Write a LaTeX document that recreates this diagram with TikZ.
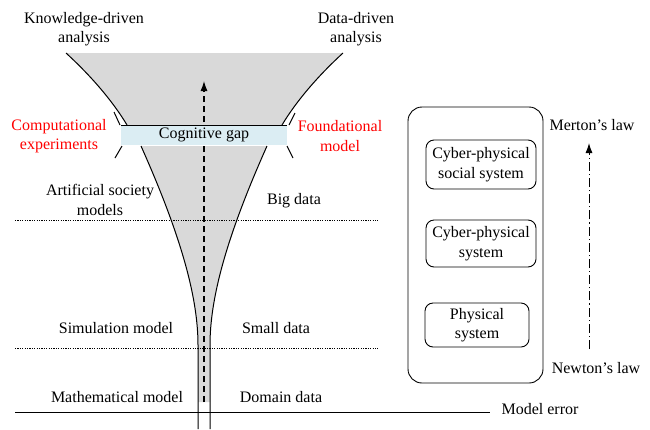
\documentclass[tikz,border=0pt]{standalone}
\usepackage{fontspec}
\setmainfont{Liberation Serif}
\usetikzlibrary{arrows.meta}
\definecolor{gapblue}{RGB}{219,237,243}
\definecolor{funnelgray}{RGB}{217,217,217}
\begin{document}
\begin{tikzpicture}[x=1pt,y=-1pt,
  lbl/.style={font=\fontsize{16}{19.5}\selectfont, align=center, inner sep=0pt},
  redlbl/.style={lbl,text=red},
  sysbox/.style={lbl, draw, rounded corners=8pt, line width=0.9pt},
  edgeline/.style={line width=1pt},
  guide/.style={dash pattern=on 1.2pt off 1.2pt, line width=1pt},
  axisarrow/.style={dash pattern=on 6pt off 4pt, line width=1.1pt, -{Latex[length=10pt,width=7pt]}},
  lawarrow/.style={dash pattern=on 9pt off 3pt on 1.2pt off 3pt, line width=1pt, -{Latex[length=10pt,width=7pt]}}
]
\useasboundingbox (0,0) rectangle (650,429);

% ---------- upper funnel ----------
\fill[funnelgray] (66,53) .. controls (90,75) and (112,100) .. (127,125)
  -- (282,125) .. controls (297,100) and (319,75) .. (343,53) -- cycle;
\draw[edgeline] (66,53) .. controls (90,75) and (112,100) .. (127,125);
\draw[edgeline] (343,53) .. controls (319,75) and (297,100) .. (282,125);
\draw[edgeline] (114,112) -- (120,125);
\draw[edgeline] (295,113) -- (289,125);

% ---------- lower funnel ----------
\fill[funnelgray] (141,146) .. controls (183,240) and (198,300) .. (198,345)
  -- (198,402) -- (210,402) -- (210,345) .. controls (210,300) and (225,240) .. (267,146) -- cycle;
\draw[edgeline] (141,146) .. controls (183,240) and (198,300) .. (198,345) -- (198,429);
\draw[edgeline] (267,146) .. controls (225,240) and (210,300) .. (210,345) -- (210,429);
\draw[edgeline] (122,146) -- (115,158);
\draw[edgeline] (287,146) -- (293,158);

% ---------- central arrow (behind the bar) ----------
\coordinate (ca) at (204,402);
\coordinate (cb) at (204,81);
\draw[axisarrow] (ca) -- (cb);

% ---------- cognitive gap bar ----------
\fill[gapblue] (121,125) rectangle (287,145);
\draw[line width=0.8pt] (121,125) -- (287,125);
\node[lbl] (gap) at (204,135) {Cognitive gap};

% ---------- level lines ----------
\coordinate (d1a) at (15,220);  \coordinate (d1b) at (378,220);
\coordinate (d2a) at (15,348);  \coordinate (d2b) at (378,348);
\coordinate (e1a) at (15,412);  \coordinate (e1b) at (490,412);
\draw[guide] (d1a) -- (d1b);
\draw[guide] (d2a) -- (d2b);
\draw[line width=1pt] (e1a) -- (e1b);

% ---------- labels ----------
\node[lbl] (kda) at (84,29) {Knowledge-driven\\analysis};
\node[lbl] (dda) at (356,29) {Data-driven\\analysis};
\node[redlbl] (ce) at (59,136) {Computational\\experiments};
\node[redlbl] (fm) at (340,136) {Foundational\\model};
\node[lbl] (asm) at (100,200) {Artificial society\\models};
\node[lbl] (bd) at (294,201) {Big data};
\node[lbl] (sm) at (116,328) {Simulation model};
\node[lbl] (sd) at (276,328) {Small data};
\node[lbl] (mm) at (117,397) {Mathematical model};
\node[lbl] (dd) at (281,397) {Domain data};
\node[lbl] (me) at (540,409) {Model error};

% ---------- right panel ----------
\node[draw, rounded corners=14pt, line width=0.9pt, minimum width=135pt, minimum height=276pt, inner sep=0pt] (outer) at (475.5,245) {};
\node[sysbox, minimum width=110pt, minimum height=49pt] (cpss) at (481,164.5) {Cyber-physical\\social system};
\node[sysbox, minimum width=110pt, minimum height=47pt] (cps) at (481,243.5) {Cyber-physical\\system};
\node[sysbox, minimum width=104pt, minimum height=44pt] (ps) at (477,325) {Physical\\system};
\node[lbl] (merton) at (592,125) {Merton’s law};
\node[lbl] (newton) at (596,368) {Newton’s law};
\coordinate (la) at (589,349);
\coordinate (lb) at (589,143);
\draw[lawarrow] (la) -- (lb);
\end{tikzpicture}
\end{document}
